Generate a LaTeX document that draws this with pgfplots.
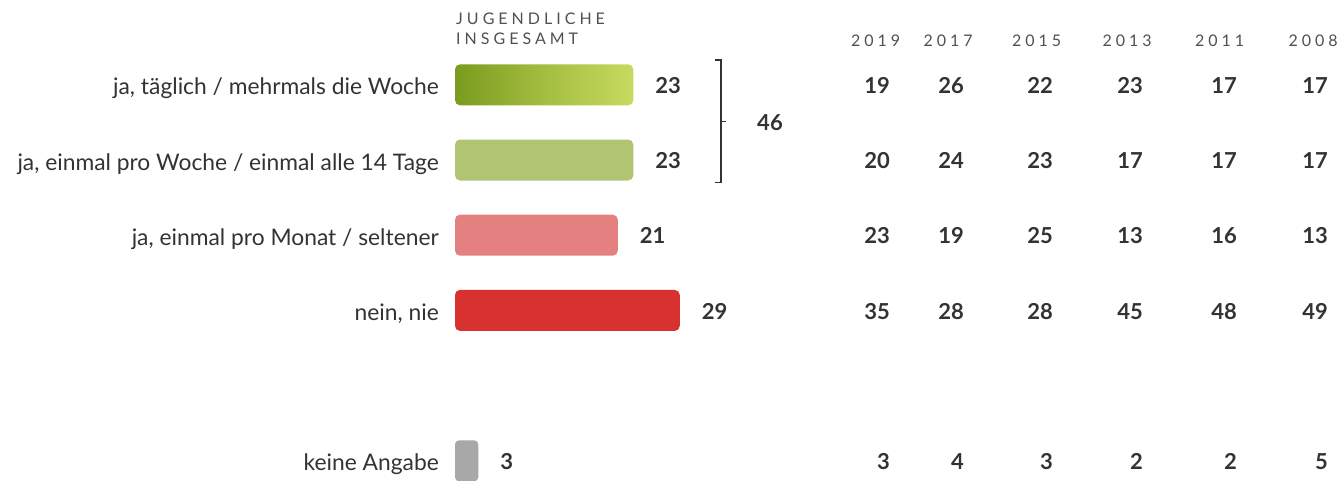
\documentclass[border=0pt]{standalone}
\usepackage{pgfplots}
\pgfplotsset{compat=1.18}
\usepackage{pgfplotstable}
\usepackage{fontspec}
\setmainfont{Lato}
\newfontfamily\hdrfont[LetterSpace=25]{Lato}
\definecolor{txt}{HTML}{333333}
\definecolor{hdr}{HTML}{505050}
\definecolor{gA}{HTML}{7A9B1D}
\definecolor{gB}{HTML}{C6DA5F}
\definecolor{gC}{HTML}{B0C472}
\definecolor{rA}{HTML}{E58080}
\definecolor{rB}{HTML}{D93030}
\definecolor{gr}{HTML}{A8A8A8}

% rows: 0..3 answers, 5 = keine Angabe
\pgfplotstableread{
row y2019 y2017 y2015 y2013 y2011 y2008
0 19 26 22 23 17 17
1 20 24 23 17 17 17
2 23 19 25 13 16 13
3 35 28 28 45 48 49
5 3 4 3 2 2 5
}\years

\begin{document}
\begin{tikzpicture}
\useasboundingbox (0,0) rectangle (1340pt,480pt);
\begin{axis}[
  at={(0pt,0pt)}, anchor=south west,
  scale only axis, width=1340pt, height=480pt,
  xmin=-58.71, xmax=114.19,
  ymin=-1.1277, ymax=5.2553, y dir=reverse,
  axis line style={draw=none}, tick style={draw=none},
  major tick length=0pt,
  ytick={0,1,2,3,5},
  yticklabels={{ja, täglich / mehrmals die Woche},{ja, einmal pro Woche / einmal alle 14 Tage},{ja, einmal pro Monat / seltener},{nein, nie},{keine Angabe}},
  yticklabel style={anchor=base east, inner sep=0pt, xshift=439pt, yshift=-10pt, font=\fontsize{22.8}{26}\selectfont, text=txt},
  xtick={54.27,63.62,75.04,86.72,98.65,110.72},
  xticklabels={2019,2017,2015,2013,2011,2008},
  xticklabel pos=upper,
  xticklabel style={anchor=base, inner sep=0pt, yshift=-46pt, font=\hdrfont\fontsize{16}{20}\selectfont, text=hdr},
  clip=false,
  /pgf/number format/assume math mode=true,
  bar width=41pt,
  every node near coord/.append style={font=\bfseries\fontsize{22}{26}\selectfont, text=txt, inner sep=0pt},
]
% bars
\addplot[xbar, bar shift=0pt, draw=none, rounded corners=5pt, left color=gA, right color=gB, middle color=gA!45!gB,
  nodes near coords, every node near coord/.append style={anchor=base west, xshift=22pt, yshift=-8.7pt}]
  coordinates {(23,0)};
\addplot[xbar, bar shift=0pt, draw=none, rounded corners=5pt, fill=gC,
  nodes near coords, every node near coord/.append style={anchor=base west, xshift=22pt, yshift=-8.7pt}]
  coordinates {(23,1)};
\addplot[xbar, bar shift=0pt, draw=none, rounded corners=5pt, fill=rA,
  nodes near coords, every node near coord/.append style={anchor=base west, xshift=22pt, yshift=-8.7pt}]
  coordinates {(21,2)};
\addplot[xbar, bar shift=0pt, draw=none, rounded corners=5pt, fill=rB,
  nodes near coords, every node near coord/.append style={anchor=base west, xshift=22pt, yshift=-8.7pt}]
  coordinates {(29,3)};
\addplot[xbar, bar shift=0pt, draw=none, rounded corners=4pt, fill=gr,
  nodes near coords, every node near coord/.append style={anchor=base west, xshift=22pt, yshift=-8.7pt}]
  coordinates {(3,5)};
% sum of first two rows
\addplot[draw=none, mark=none, point meta=explicit symbolic, nodes near coords,
  every node near coord/.append style={anchor=base west, yshift=-8.3pt}]
  coordinates {(38.97,0.4907) [46]};
% year columns
\addplot[draw=none, mark=none, point meta=explicit symbolic, nodes near coords,
  every node near coord/.append style={anchor=base east, yshift=-8.7pt}]
  table[x expr=56.13, y=row, meta=y2019] {\years};
\addplot[draw=none, mark=none, point meta=explicit symbolic, nodes near coords,
  every node near coord/.append style={anchor=base east, yshift=-8.7pt}]
  table[x expr=65.68, y=row, meta=y2017] {\years};
\addplot[draw=none, mark=none, point meta=explicit symbolic, nodes near coords,
  every node near coord/.append style={anchor=base east, yshift=-8.7pt}]
  table[x expr=77.16, y=row, meta=y2015] {\years};
\addplot[draw=none, mark=none, point meta=explicit symbolic, nodes near coords,
  every node near coord/.append style={anchor=base east, yshift=-8.7pt}]
  table[x expr=88.77, y=row, meta=y2013] {\years};
\addplot[draw=none, mark=none, point meta=explicit symbolic, nodes near coords,
  every node near coord/.append style={anchor=base east, yshift=-8.7pt}]
  table[x expr=100.90, y=row, meta=y2011] {\years};
\addplot[draw=none, mark=none, point meta=explicit symbolic, nodes near coords,
  every node near coord/.append style={anchor=base east, yshift=-8.7pt}]
  table[x expr=112.65, y=row, meta=y2008] {\years};
% bracket
\draw[txt, line width=1.2pt] (axis cs:33.55,-0.3298) -- (axis cs:34.32,-0.3298) -- (axis cs:34.32,1.3019) -- (axis cs:33.55,1.3019);
\draw[txt, line width=1.2pt] (axis cs:34.32,0.4907) -- (axis cs:34.97,0.4907);
% header
\node[anchor=base west, inner sep=0pt, font=\hdrfont\fontsize{16}{20}\selectfont, text=hdr] at (axis cs:0.13,-0.8085) {JUGENDLICHE};
\node[anchor=base west, inner sep=0pt, font=\hdrfont\fontsize{16}{20}\selectfont, text=hdr] at (axis cs:0.13,-0.5426) {INSGESAMT};
\end{axis}
\end{tikzpicture}
\end{document}
